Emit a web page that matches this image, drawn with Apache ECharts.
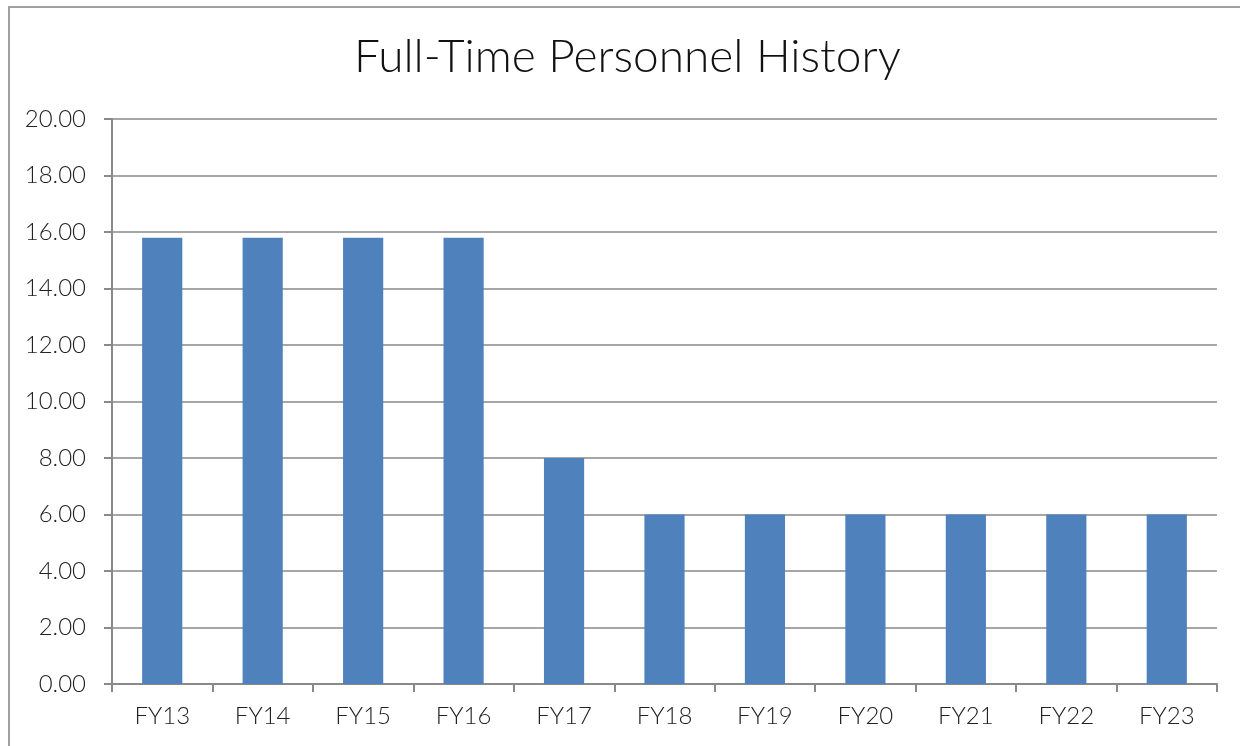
<!DOCTYPE html>
<html>
<head>
<meta charset="utf-8">
<script src="https://cdn.jsdelivr.net/npm/echarts@6/dist/echarts.min.js"></script>
<style>
  html, body { margin: 0; padding: 0; background: #fff; }
  #chart { width: 1240px; height: 746px; }
</style>
</head>
<body>
<div id="chart"></div>
<script>
const categories = ['FY13', 'FY14', 'FY15', 'FY16', 'FY17', 'FY18', 'FY19', 'FY20', 'FY21', 'FY22', 'FY23'];
const personnel = [15.8, 15.8, 15.8, 15.8, 8, 6, 6, 6, 6, 6, 6];
const yTicks = {min: 0, max: 20, interval: 2};

const axisGray = '#898989';
const labelFont = {fontFamily: 'Lato', fontWeight: 300, fontSize: 24, color: '#222'};

const chart = echarts.init(document.getElementById('chart'), null, {renderer: 'canvas'});
chart.setOption({
  animation: false,
  backgroundColor: '#fff',
  graphic: [{
    type: 'rect',
    shape: {x: 9, y: 7, width: 1300, height: 800},
    style: {fill: 'none', stroke: '#a0a0a0', lineWidth: 2},
    silent: true,
  }],
  title: {
    text: 'Full-Time Personnel History',
    left: 349,
    top: 29,
    textStyle: {fontFamily: 'Lato', fontWeight: 300, fontSize: 46, color: '#111'},
  },
  grid: {left: 112, right: 23, top: 119, bottom: 62, containLabel: false},
  xAxis: {
    type: 'category',
    data: categories,
    axisLine: {lineStyle: {color: axisGray, width: 2}},
    axisTick: {show: true, length: 8, alignWithLabel: false, lineStyle: {color: axisGray, width: 2}},
    axisLabel: {...labelFont, margin: 20},
  },
  yAxis: {
    type: 'value',
    ...yTicks,
    axisLine: {show: true, lineStyle: {color: axisGray, width: 2}},
    axisTick: {show: true, length: 8, lineStyle: {color: axisGray, width: 2}},
    splitLine: {lineStyle: {color: axisGray, width: 1.5}},
    axisLabel: {...labelFont, margin: 26, formatter: (v) => v.toFixed(2)},
  },
  series: [{
    type: 'bar',
    data: personnel,
    barWidth: '40%',
    itemStyle: {color: '#4f81bd'},
  }],
});
</script>
</body>
</html>
